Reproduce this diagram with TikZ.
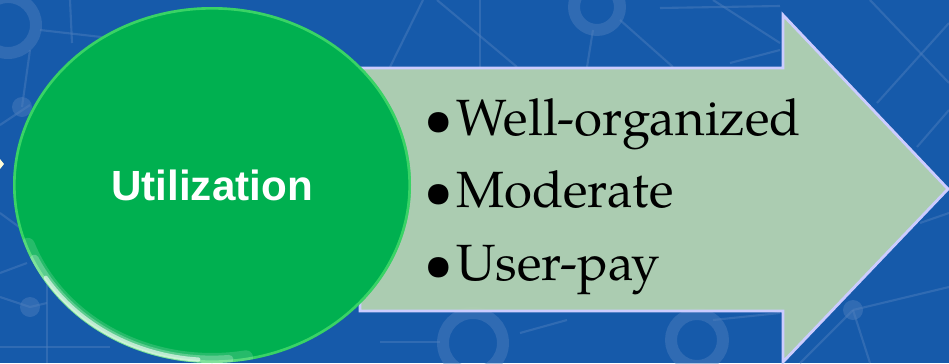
\documentclass[tikz,border=0pt]{standalone}
\usepackage{fontspec}
\usetikzlibrary{shapes.geometric}
\newfontfamily\headfont{Liberation Sans}
\newfontfamily\itemfont{TeX Gyre Pagella}
\definecolor{bgblue}{RGB}{22,90,170}
\definecolor{netblue}{RGB}{80,128,190}
\definecolor{arrowgreen}{RGB}{180,211,178}
\definecolor{ballgreen}{RGB}{0,176,80}
\tikzset{
  net/.style={netblue, line width=0.6pt, opacity=0.45},
  ring/.style={netblue, line width=3.4pt, opacity=0.45},
  knot/.style={fill=netblue, opacity=0.45},
  ball/.style={ellipse, minimum width=3.98cm, minimum height=3.56cm, inner sep=0pt,
    fill=ballgreen, text=white, font=\headfont\bfseries\fontsize{12}{14}\selectfont},
  rim/.style={white, line cap=round},
  item/.style={anchor=base west, inner sep=0pt, font=\itemfont\fontsize{14.5}{17}\selectfont},
}
\begin{document}
\begin{tikzpicture}
  \useasboundingbox (0,0) rectangle (9.49,3.63);
  \fill[bgblue] (0,0) rectangle (9.49,3.63);

  % network in the background
  \draw[ring] (0.08,3.38) circle (0.28);
  \draw[ring] (5.97,3.56) circle (0.23);
  \draw[ring] (4.73,0.20) circle (0.30);
  \draw[ring] (6.97,0.23) circle (0.26);
  \fill[knot] (0.22,2.56) circle (0.1);
  \fill[knot] (0.30,0.56) circle (0.1);
  \fill[knot] (8.53,0.53) circle (0.1);
  \draw[net] (0.40,3.33) -- (1.10,3.25);
  \draw[net] (0.30,3.13) -- (0.22,2.56);
  \draw[net] (0.70,3.63) -- (0.72,3.20);
  \draw[net] (0,2.38) -- (0.30,2.58);
  \draw[net] (0,1.50) -- (0.30,1.28);
  \draw[net] (0,0.90) -- (0.27,1.00);
  \draw[net] (0,0.66) -- (0.30,0.56) -- (0.47,0.60);
  \draw[net] (0.47,1.23) -- (0.47,0);
  \draw[net] (0,0.16) -- (1.10,0.16);
  \draw[net] (4.23,3.63) -- (3.90,2.96);
  \draw[net] (4.37,3.63) -- (5.17,2.96);
  \draw[net] (4.80,3.63) -- (4.80,2.96);
  \draw[net] (5.93,3.33) -- (5.87,2.96);
  \draw[net] (6.20,3.43) -- (6.73,2.96);
  \draw[net] (7.13,3.63) -- (7.80,3.20);
  \draw[net] (6.60,3.55) -- (7.80,3.57);
  \draw[net] (7.30,3.00) -- (7.80,3.13);
  \draw[net] (3.80,0.21) -- (4.40,0.21);
  \draw[net] (5.20,0.30) -- (5.67,0.43);
  \draw[net] (7.13,0.43) -- (7.80,0.50);
  \draw[net] (8.70,3.63) -- (9.49,2.80);
  \draw[net] (9.49,3.40) -- (8.77,2.60);
  \draw[net] (9.49,2.53) -- (9.17,2.16);
  \draw[net] (8.53,0.53) -- (9.49,0.76);
  \draw[net] (8.53,0.53) -- (8.00,0);
  \draw[net] (8.53,0.53) -- (8.70,0);
  \draw[net] (9.49,1.50) -- (9.20,1.40);
  \fill[yellow!15!white] (0,2.04) -- (0.04,1.99) -- (0,1.94) -- cycle;

  % the big arrow
  \draw[white!80!blue, line width=0.8pt, fill=arrowgreen, fill opacity=0.95]
    (3.60,2.95) -- (7.83,2.95) -- (7.83,3.48) -- (9.48,1.74)
    -- (7.83,0.01) -- (7.83,0.52) -- (3.60,0.52) -- cycle;

  % green ball with its rim
  \node[ball] (util) at (2.12,1.78) {Utilization};
  \begin{scope}
    \clip (util.center) ellipse [x radius=1.99cm, y radius=1.78cm];
    \draw[green!50!white, line width=1.5pt, opacity=0.45] (util.center) ellipse [x radius=1.99cm, y radius=1.78cm];
    \draw[rim, line width=4pt, opacity=0.15]
      (util.center) ++(200:1.96cm and 1.75cm)
      arc[start angle=200, end angle=280, x radius=1.96cm, y radius=1.75cm];
    \draw[rim, line width=2.5pt, opacity=0.25]
      (util.center) ++(205:1.96cm and 1.75cm)
      arc[start angle=205, end angle=275, x radius=1.96cm, y radius=1.75cm];
    \draw[rim, line width=1.2pt, opacity=0.6]
      (util.center) ++(212:1.96cm and 1.75cm)
      arc[start angle=212, end angle=266, x radius=1.96cm, y radius=1.75cm];
  \end{scope}

  \node[item] (well) at (4.24,2.28) {\textbullet\hspace{0.03cm}Well-organized};
  \node[item] (mod) at (4.24,1.56) {\textbullet\hspace{0.03cm}Moderate};
  \node[item] (pay) at (4.24,0.83) {\textbullet\hspace{0.03cm}User-pay};
\end{tikzpicture}
\end{document}
